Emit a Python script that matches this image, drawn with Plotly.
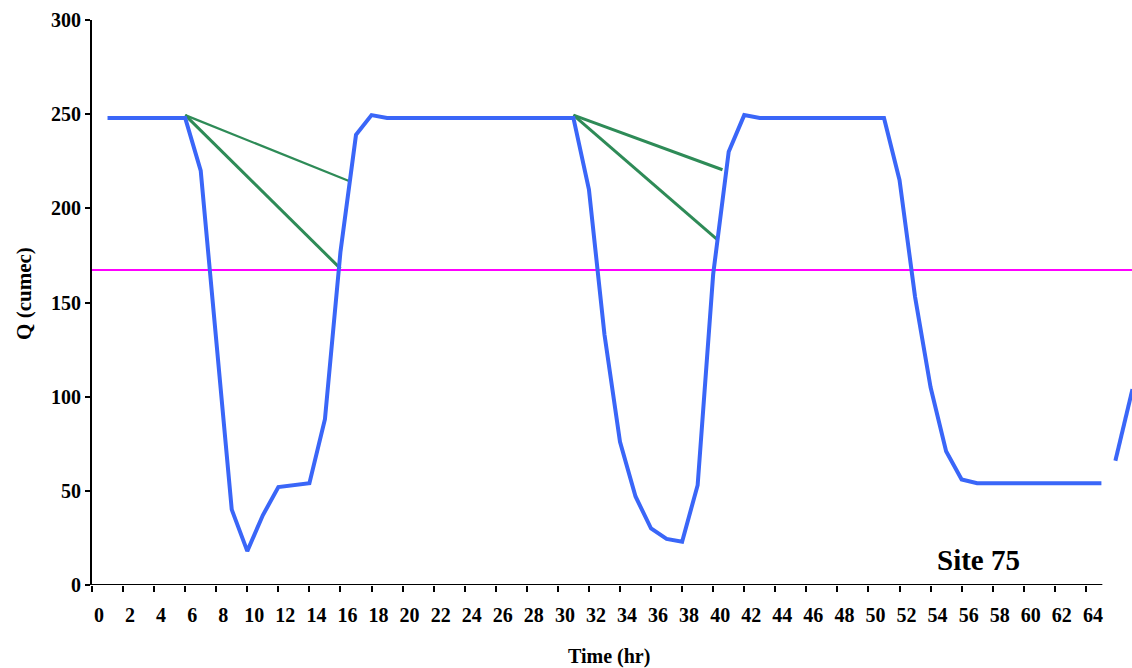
import plotly.graph_objects as go

# ---- data ----
time_hr = [1, 2, 3, 4, 5, 6, 7, 8, 9, 10, 11, 12, 13, 14, 15, 16, 17, 18, 19,
           20, 21, 22, 23, 24, 25, 26, 27, 28, 29, 30, 31, 32, 33, 34, 35, 36,
           37, 38, 39, 40, 41, 42, 43, 44, 45, 46, 47, 48, 49, 50, 51, 52, 53,
           54, 55, 56, 57, 58, 59, 60, 61, 62, 63, 64, 65, None, 65.9, 67]
q_cumec = [248, 248, 248, 248, 248, 248, 220, 130, 40, 18, 37, 52, 53, 54, 88,
           177, 239, 249.5, 248, 248, 248, 248, 248, 248, 248, 248, 248, 248,
           248, 248, 248, 210, 133, 76, 47, 30, 24.5, 23, 53, 165, 230, 249.5,
           248, 248, 248, 248, 248, 248, 248, 248, 248, 215, 153, 105, 71, 56,
           54, 54, 54, 54, 54, 54, 54, 54, 54, None, 66, 104]

recession_lines = [
    ([6, 16.55], [249.5, 214.5], 2.2),
    ([6, 16.0], [249.5, 168.0], 3.0),
    ([31, 40.6], [249.5, 220.5], 3.0),
    ([31, 40.25], [249.5, 183.5], 3.0),
]

threshold = 167.3
x_ticks = list(range(0, 65, 2))
y_ticks = [0, 50, 100, 150, 200, 250, 300]

FONT = "Liberation Serif, Times New Roman, serif"

fig = go.Figure()

fig.add_trace(go.Scatter(x=[0, 70], y=[threshold, threshold], mode="lines",
                         line=dict(color="#ff00ff", width=2), showlegend=False))

for xs, ys, w in recession_lines:
    fig.add_trace(go.Scatter(x=xs, y=ys, mode="lines",
                             line=dict(color="#2e8b57", width=w), showlegend=False))

fig.add_trace(go.Scatter(x=time_hr, y=q_cumec, mode="lines", connectgaps=False,
                         line=dict(color="#3a66f8", width=4), showlegend=False))

# x axis baseline (ends at ~65 hr)
fig.add_shape(type="line", xref="x", yref="y", x0=0, x1=65.06, y0=0, y1=0,
              line=dict(color="black", width=2), layer="above")

fig.update_layout(
    width=1132, height=668,
    margin=dict(l=92, r=0, t=20, b=83),
    plot_bgcolor="white", paper_bgcolor="white",
    font=dict(family=FONT, color="black"),
    xaxis=dict(range=[0, 66.97], autorange=False, tickvals=x_ticks,
               ticktext=[str(v) for v in x_ticks],
               showgrid=False, zeroline=False, showline=False,
               ticks="outside", ticklen=6, tickwidth=2, tickcolor="black",
               ticklabelshift=7, ticklabelstandoff=6,
               tickfont=dict(family=FONT, size=20, color="black", weight="bold")),
    yaxis=dict(range=[0, 300], autorange=False, tickvals=y_ticks,
               showgrid=False, zeroline=False, showline=True, linecolor="black",
               linewidth=2, ticks="outside", ticklen=5, tickwidth=2,
               tickcolor="black",
               tickfont=dict(family=FONT, size=20, color="black", weight="bold")),
    annotations=[
        dict(text="<b>Time (hr)</b>", xref="paper", yref="paper",
             x=0.497, y=-0.1274, showarrow=False,
             font=dict(family=FONT, size=20, color="black"),
             xanchor="center", yanchor="middle"),
        dict(text="<b>Q (cumec)</b>", xref="paper", yref="paper",
             x=-0.0654, y=0.517, showarrow=False, textangle=-90,
             font=dict(family=FONT, size=21, color="black"),
             xanchor="center", yanchor="middle"),
        dict(text="<b>Site 75</b>", xref="paper", yref="paper",
             x=0.852, y=0.044, showarrow=False,
             font=dict(family=FONT, size=29, color="black"),
             xanchor="center", yanchor="middle"),
    ],
)

fig.write_html("out.html",
               config={"displayModeBar": False},
               post_script="document.body.style.margin='0';"
                           "document.body.style.overflow='hidden';")
